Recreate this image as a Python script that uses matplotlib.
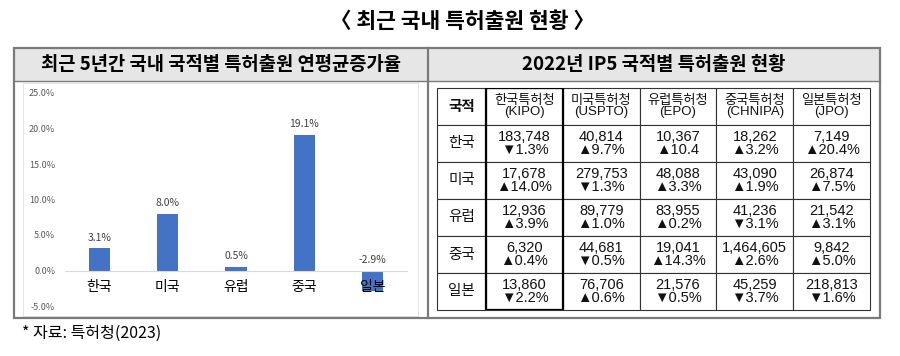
import matplotlib
matplotlib.use("Agg")
import matplotlib.pyplot as plt
from matplotlib.patches import Rectangle

plt.rcParams['font.family'] = ['Noto Sans CJK KR', 'DejaVu Sans']

# left panel: average annual growth rate of domestic patent filings by nationality (last 5 years)
countries = ["한국", "미국", "유럽", "중국", "일본"]
growth = [3.1, 8.0, 0.5, 19.1, -2.9]
y_ticks = [-5, 0, 5, 10, 15, 20, 25]

# right panel: 2022 IP5 filings by nationality
offices = ["한국특허청\n(KIPO)", "미국특허청\n(USPTO)", "유럽특허청\n(EPO)",
           "중국특허청\n(CHNIPA)", "일본특허청\n(JPO)"]
filings = [
    [183748, 40814, 10367, 18262, 7149],
    [17678, 279753, 48088, 43090, 26874],
    [12936, 89779, 83955, 41236, 21542],
    [6320, 44681, 19041, 1464605, 9842],
    [13860, 76706, 21576, 45259, 218813],
]
changes = [
    ["▼1.3%", "▲9.7%", "▲10.4", "▲3.2%", "▲20.4%"],
    ["▲14.0%", "▼1.3%", "▲3.3%", "▲1.9%", "▲7.5%"],
    ["▲3.9%", "▲1.0%", "▲0.2%", "▼3.1%", "▲3.1%"],
    ["▲0.4%", "▼0.5%", "▲14.3%", "▲2.6%", "▲5.0%"],
    ["▼2.2%", "▲0.6%", "▼0.5%", "▼3.7%", "▼1.6%"],
]

W, H = 900, 356
fig = plt.figure(figsize=(W / 100, H / 100), dpi=100)

# frame drawn in pixel coordinates
frame = fig.add_axes([0, 0, 1, 1])
frame.set_xlim(0, W)
frame.set_ylim(H, 0)
frame.axis("off")
frame.add_patch(Rectangle((14, 48), 866, 33, facecolor="#e6e6e6", edgecolor="none"))
frame.add_patch(Rectangle((23, 83), 395, 233, facecolor="white", edgecolor="#e2e2e2", lw=0.6))
frame.add_patch(Rectangle((14, 48), 866, 270, facecolor="none", edgecolor="#7a7a7a", lw=1.6))
frame.plot([14, 880], [81, 81], color="#7a7a7a", lw=1.0)
frame.plot([428, 428], [48, 318], color="#7a7a7a", lw=1.6)

fig.text(462 / W, 1 - 22 / H, "〈 최근 국내 특허출원 현황 〉", ha="center", va="center",
         fontsize=15.5, fontweight="bold")
frame.text(221, 65, "최근 5년간 국내 국적별 특허출원 연평균증가율", ha="center", va="center",
           fontsize=13.5, fontweight="bold")
frame.text(654, 65, "2022년 IP5 국적별 특허출원 현황", ha="center", va="center",
           fontsize=13.5, fontweight="bold")
fig.text(22 / W, 1 - 333 / H, "* 자료: 특허청(2023)", ha="left", va="center", fontsize=11.5)

# bar chart
ax = fig.add_axes([65 / W, 1 - 306 / H, 342 / W, 213 / H])
ax.patch.set_alpha(0)
x = range(len(countries))
bars = ax.bar(x, growth, width=0.31, color="#4472C4")
ax.set_xlim(-0.5, 4.5)
ax.set_ylim(-5, 25)
ax.set_yticks(y_ticks)
ax.set_yticklabels([f"{v:.1f}%" for v in y_ticks], fontsize=6.5, color="#595959")
ax.set_xticks(list(x))
ax.set_xticklabels(countries, fontsize=8, color="#404040")
ax.tick_params(axis="both", length=0)
ax.tick_params(axis="y", pad=7)
ax.tick_params(axis="x", pad=7)
for s in ["left", "right", "top"]:
    ax.spines[s].set_visible(False)
ax.spines["bottom"].set_position(("data", 0))
ax.spines["bottom"].set_color("#d9d9d9")
ax.spines["bottom"].set_linewidth(0.8)
for xi, v in zip(x, growth):
    ax.annotate(f"{v:.1f}%", (xi, max(v, 0)), xytext=(0, 4), textcoords="offset points",
                ha="center", va="bottom", fontsize=7.5, color="#404040")

# table
tax = fig.add_axes([437 / W, 1 - 310 / H, 433 / W, 222 / H])
tax.axis("off")
cell_text = [[countries[i]] + [f"{filings[i][j]:,}\n{changes[i][j]}" for j in range(len(offices))]
             for i in range(len(countries))]
first_w = 49 / 433
col_widths = [first_w] + [(1 - first_w) / len(offices)] * len(offices)
tbl = tax.table(cellText=cell_text, colLabels=["국적"] + offices, colWidths=col_widths,
                cellLoc="center", bbox=[0, 0, 1, 1])
tbl.auto_set_font_size(False)
for (r, c), cell in tbl.get_celld().items():
    cell.set_edgecolor("#333333")
    cell.set_linewidth(0.8)
    t = cell.get_text()
    t.set_fontfamily(["Liberation Sans", "Noto Sans CJK KR"])
    t.set_linespacing(0.95)
    t.set_color("#111111")
    if c == 0:
        t.set_fontfamily(["Noto Sans CJK KR", "DejaVu Sans"])
        t.set_fontsize(10.5)
        if r == 0:
            t.set_fontweight("bold")
    elif r == 0:
        t.set_fontsize(9.5)
    else:
        t.set_fontsize(10.5)
tax.add_patch(Rectangle((first_w, 0), col_widths[1], 1, transform=tax.transAxes,
                        facecolor="none", edgecolor="black", lw=1.6, zorder=5))

fig.savefig("out.png", dpi=100)
